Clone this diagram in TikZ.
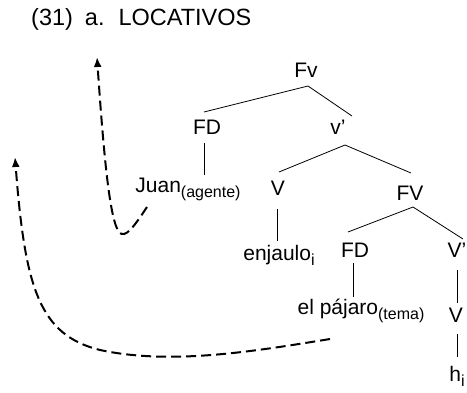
\documentclass[tikz,border=0pt]{standalone}
\usepackage{fontspec}
\setmainfont{Liberation Sans}
\usetikzlibrary{arrows.meta}
\newcommand{\sub}[1]{\raisebox{-5pt}{\fontsize{16}{16}\selectfont #1}}
\begin{document}
\begin{tikzpicture}[x=1pt,y=-1pt,
  lbl/.style={inner sep=0pt,font=\fontsize{21}{22}\selectfont},
  edge/.style={line width=0.8pt},
  mov/.style={line width=2pt,dash pattern=on 10pt off 5pt,-{Latex[length=10pt,width=8pt]}}]
\useasboundingbox (0,0) rectangle (467,392);
\node[lbl,anchor=west,font=\fontsize{23.5}{24}\selectfont] (title) at (31,19) {(31)\hspace{12pt}a.\hspace{14pt}LOCATIVOS};
\node[lbl] (Fv) at (306,70) {Fv};
\node[lbl] (FDa) at (207,127) {FD};
\node[lbl] (va) at (338,127) {v’};
\node[lbl] (Juan) at (188,189) {Juan\sub{(agente)}};
\node[lbl] (Va) at (278,188) {V};
\node[lbl] (FV) at (410,193) {FV};
\node[lbl] (enj) at (279,255) {enjaulo\sub{i}};
\node[lbl] (FDb) at (355,250) {FD};
\node[lbl] (Vp) at (457,250) {V’};
\node[lbl] (paj) at (361,311) {el pájaro\sub{(tema)}};
\node[lbl] (Vb) at (456,315) {V};
\node[lbl] (h) at (457,376) {h\sub{i}};
\coordinate (t1) at (97,57);
\coordinate (t2) at (15,157);
% tree edges
\draw[edge] ([shift={(-3,-15)}]FDa.center) -- ([shift={(2,16)}]Fv.center) -- ([shift={(14,-11)}]va.center);
\draw[edge] ([shift={(-3,16)}]FDa.center) -- ([shift={(16,-14)}]Juan.center);
\draw[edge] ([shift={(1,-16)}]Va.center) -- ([shift={(7,18)}]va.center) -- ([shift={(1,-20)}]FV.center);
\draw[edge] ([shift={(-1,21)}]Va.center) -- ([shift={(-2,-14)}]enj.center);
\draw[edge] ([shift={(-7,-18)}]FDb.center) -- ([shift={(3,14)}]FV.center) -- ([shift={(6,-11)}]Vp.center);
\draw[edge] ([shift={(-2,13)}]FDb.center) -- ([shift={(-8,-14)}]paj.center);
\draw[edge] ([shift={(0,20)}]Vp.center) -- ([shift={(1,-12)}]Vb.center);
\draw[edge] ([shift={(1,19)}]Vb.center) -- ([shift={(0,-19)}]h.center);
% movement arrows
\draw[mov] ([shift={(-41,18)}]Juan.center) .. controls (135,225) and (125,240) .. (119,232)
  .. controls (110,220) and (104,160) .. (t1);
\draw[mov] ([shift={(-31,28)}]paj.center) .. controls (250,352) and (170,365) .. (100,350)
  .. controls (40,335) and (25,290) .. (t2);
\end{tikzpicture}
\end{document}
